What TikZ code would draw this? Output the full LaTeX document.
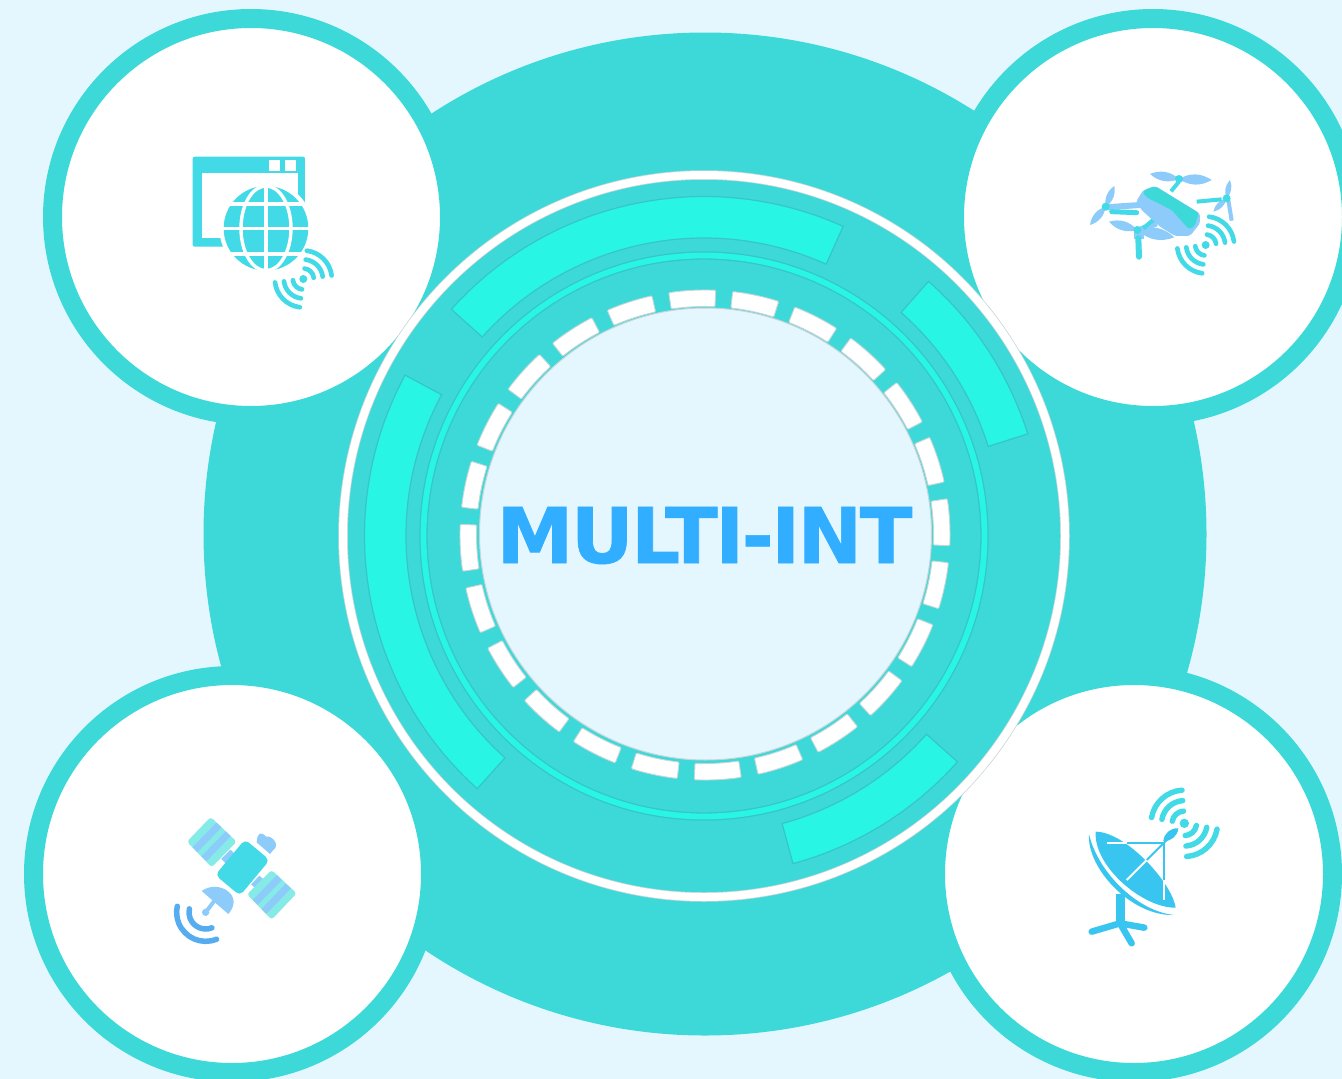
\documentclass[tikz,border=0pt]{standalone}
\usepackage{fontspec}
\usetikzlibrary{positioning}
\newfontfamily\titlefont{DejaVu Sans}[LetterSpace=-3,BoldFeatures={FakeBold=0.9}]
\definecolor{skybg}{HTML}{E4F7FF}
\definecolor{ringteal}{HTML}{3DD9D9}
\definecolor{barteal}{HTML}{28F5E3}
\definecolor{barline}{HTML}{36C6CA}
\definecolor{edgegray}{HTML}{C6D6D8}
\definecolor{titleblue}{HTML}{31AEFF}
\definecolor{iconcyan}{HTML}{42DAE6}
\definecolor{iconlight}{HTML}{8CCBFA}
\definecolor{iconpale}{HTML}{86EBE6}
\definecolor{wavenavy}{HTML}{55ADF0}
\definecolor{dishblue}{HTML}{38C6F0}
\newcommand{\wifisign}[4]{
	\fill[iconcyan] (#1,#2) circle (#3*0.4);
	\foreach \r in {1.05,1.95,2.85}
		\foreach \a in {#4,#4+180}
			\draw[iconcyan,line width=#3*0.155pt,line cap=round] (#1,#2) ++(\a-38:\r*#3) arc (\a-38:\a+38:\r*#3);
}
\newcommand{\ringbar}[2]{
	\draw[barstyle] (#1:339.5) arc (#1:#2:339.5) -- (#2:298) arc (#2:#1:298) -- cycle;
}
\begin{document}
\begin{tikzpicture}[x=1pt,y=-1pt,
	sensor/.style={circle,draw=ringteal,fill=white,line width=19pt,minimum size=397pt,inner sep=0pt},
	barstyle/.style={fill=barteal,draw=barline,line width=1.2pt},
	dashstyle/.style={fill=white,draw=edgegray,line width=0.9pt,rounded corners=1pt}]
\path[use as bounding box,clip] (0,0) rectangle (1342,1079);
\fill[skybg] (0,0) rectangle (1342,1079);
\fill[ringteal] (705,534) circle (501.5);
\node[sensor] (web) at (251,217) {};
\node[sensor] (drone) at (1153,217) {};
\node[sensor] (satellite) at (232,874) {};
\node[sensor] (dish) at (1134,874) {};

\begin{scope}[shift={(704,536)}]
	\fill[ringteal] (0,0) circle (358);
	\draw[edgegray,line width=9.5pt] (0,0) circle (361);
	\draw[white,line width=8pt] (0,0) circle (361);
	\draw[barline,line width=8.4pt] (0,0) circle (280.5);
	\draw[barteal,line width=5.8pt] (0,0) circle (280.5);
	\ringbar{221.9}{294.2}
	\ringbar{311.4}{342.5}
	\ringbar{131.9}{208.3}
	\ringbar{41.7}{74.8}
\end{scope}
\begin{scope}[shift={(705,535)}]
	\foreach \a in {267,282,...,612}
		\draw[dashstyle] (\a-5.5:228.5) arc (\a-5.5:\a+5.5:228.5) -- (\a+5.5:245) arc (\a+5.5:\a-5.5:245) -- cycle;
\end{scope}
\draw[edgegray,fill=skybg,line width=1pt] (705.5,534) circle (226);
\node[anchor=base,inner sep=0pt,text=titleblue,font=\titlefont\bfseries\fontsize{77}{77}\selectfont] (title) at (704.5,563) {MULTI-INT};

\begin{scope}[shift={(170,140)},scale=0.3333]
	\fill[iconcyan,rounded corners=2pt] (68,50) rectangle (405,320);
	\fill[white] (97,100) rectangle (385,295);
	\fill[white] (298,60) rectangle (330,92);
	\fill[white] (345,60) rectangle (377,92);
	\fill[white] (288,265) circle (140);
	\fill[iconcyan] (288,265) circle (127);
	\draw[white,line width=3.4pt] (288,265) ellipse (75 and 127);
	\draw[white,line width=3.4pt] (288,130) -- (288,400);
	\draw[white,line width=3.4pt] (155,265) -- (420,265);
	\draw[white,line width=3.4pt] (180,192) -- (396,192);
	\draw[white,line width=3.4pt] (180,342) -- (396,342);
	\wifisign{400}{417}{30}{315}
\end{scope}

\begin{scope}[shift={(1075,160)},scale=0.3333]
	\foreach \hx/\hy/\tx/\ty in {92/140/118/78,92/140/45/195,312/57/225/42,312/57/410/60,455/115/465/60,455/115/415/155,187/210/102/185,187/210/298/232}
		\fill[iconlight] (\hx,\hy) to[bend left=32] (\tx,\ty) to[bend left=32] (\hx,\hy);
	\draw[iconlight,line width=6pt] (92,142) -- (195,135);
	\draw[iconlight,line width=6pt] (187,212) -- (245,190);
	\draw[iconlight,line width=4pt] (460,120) -- (470,182);
	\draw[iconlight,line width=8pt] (178,224) -- (208,224);
	\draw[iconcyan,line width=6pt,line cap=round] (190,235) -- (192,290);
	\draw[iconcyan,line width=5pt,line cap=round] (110,155) -- (185,158);
	\draw[iconcyan,line width=4pt] (365,125) -- (440,118);
	\draw[iconcyan,line width=4pt] (288,94) -- (312,65);
	\draw[iconcyan,line width=4pt] (240,175) -- (205,205);
	\fill[iconcyan] (92,140) circle (12);
	\fill[iconcyan] (312,57) circle (12);
	\fill[iconcyan] (455,115) circle (12);
	\fill[iconcyan] (187,210) circle (12);
	\fill[iconlight,rounded corners=3pt] (183,125) -- (205,90) -- (240,78) -- (375,160) -- (375,190) -- (345,228) -- (300,228) -- (255,200) -- (200,150) -- cycle;
	\fill[ringteal,rounded corners=3pt] (202,95) -- (240,78) -- (372,160) -- (358,200) -- (342,208) -- (290,150) -- (215,112) -- cycle;
	\wifisign{392}{255}{30}{315}
\end{scope}

\begin{scope}[shift={(160,805)},scale=0.3333]
	\draw[iconlight,line width=6pt] (190,168) -- (218,140);
	\draw[iconlight,line width=6pt] (280,244) -- (305,218);
	\fill[iconpale,rounded corners=3pt] (152,36) -- (230,110) -- (155,187) -- (81,110) -- cycle;
	\draw[iconlight,line width=7pt] (177,60) -- (105,134);
	\draw[iconlight,line width=7pt] (205,86) -- (132,161);
	\fill[iconpale,rounded corners=3pt] (335,195) -- (410,265) -- (335,344) -- (261,268) -- cycle;
	\draw[iconlight,line width=7pt] (358,218) -- (286,292);
	\draw[iconlight,line width=7pt] (385,243) -- (312,319);
	\fill[iconcyan,rounded corners=5pt] (255,103) -- (329,165) -- (240,272) -- (166,210) -- cycle;
	\fill[iconlight] (290,112) .. controls (292,80) and (305,80) .. (318,95) .. controls (335,90) and (362,120) .. (340,135) -- (330,147) -- cycle;
	\draw[iconlight,line width=4pt] (137,322) -- (165,285);
	\fill[iconlight] (137,322) circle (11);
	\fill[iconlight] (125,258) .. controls (175,222) and (255,270) .. (205,327) -- cycle;
	\draw[wavenavy,line width=5.5pt,line cap=round] (137,322) ++(68:50) arc (68:192:50);
	\draw[wavenavy,line width=5.5pt,line cap=round] (137,322) ++(68:87) arc (68:192:87);
\end{scope}

\begin{scope}[shift={(1075,775)},scale=0.3333]
	\draw[dishblue,line width=9pt] (135,356) -- (135,445);
	\draw[dishblue,line width=6.5pt,line cap=round] (50,470) -- (135,445) -- (208,458);
	\draw[dishblue,line width=6.5pt,line cap=round] (135,445) -- (170,505);
	\fill[dishblue] (62,170) .. controls (150,170) and (290,320) .. (302,398) .. controls (205,400) and (55,275) .. cycle;
	\fill[dishblue] (42,178) .. controls (35,280) and (170,425) .. (298,420) .. controls (190,410) and (70,295) .. cycle;
	\draw[dishblue,line width=2pt] (155,203) -- (270,203);
	\draw[dishblue,line width=2pt] (268,203) -- (268,315);
	\draw[dishblue,line width=2pt] (215,255) -- (285,185);
	\draw[white,line width=2pt] (95,203) -- (155,203);
	\draw[white,line width=2pt] (268,315) -- (268,375);
	\draw[white,line width=2pt] (155,315) -- (215,255);
	\fill[dishblue] (265,198) to[bend left=45] (310,160) to[bend left=45] (265,198);
	\wifisign{328}{145}{35}{228}
\end{scope}
\end{tikzpicture}
\end{document}
